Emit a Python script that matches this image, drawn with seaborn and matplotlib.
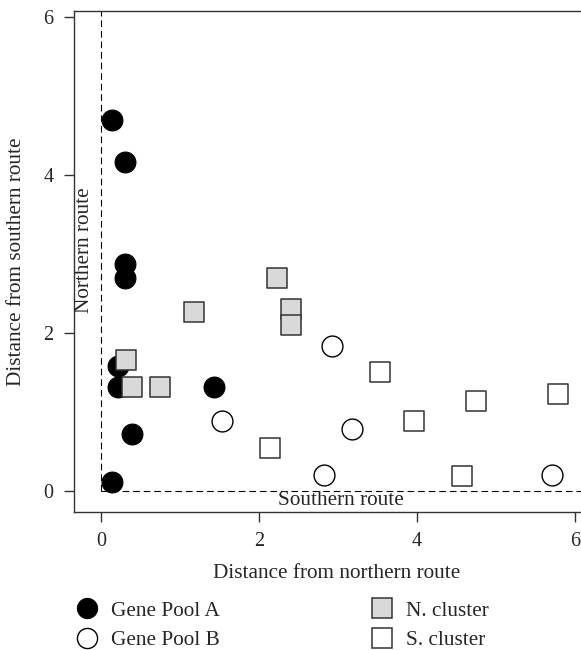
import matplotlib
matplotlib.use("Agg")
import matplotlib.pyplot as plt
from matplotlib.lines import Line2D
import seaborn as sns
import pandas as pd

# ---- data ----
gpa_x = [0.14, 0.30, 0.30, 0.30, 0.22, 0.22, 1.43, 0.39, 0.14]
gpa_y = [4.69, 4.16, 2.87, 2.70, 1.58, 1.32, 1.32, 0.72, 0.11]

gpb_x = [1.53, 2.92, 3.18, 2.82, 5.71]
gpb_y = [0.89, 1.84, 0.79, 0.20, 0.20]

ncl_x = [2.23, 1.18, 2.40, 2.40, 0.32, 0.39, 0.75]
ncl_y = [2.70, 2.26, 2.31, 2.10, 1.66, 1.32, 1.32]

scl_x = [2.14, 3.53, 3.96, 4.75, 5.78, 4.57]
scl_y = [0.54, 1.50, 0.89, 1.14, 1.23, 0.19]

group_names = ["Gene Pool A", "Gene Pool B", "N. cluster", "S. cluster"]
x_ticks = [0, 2, 4, 6]
y_ticks = [0, 2, 4, 6]

df = pd.concat([
    pd.DataFrame({"x": gpa_x, "y": gpa_y, "group": group_names[0]}),
    pd.DataFrame({"x": gpb_x, "y": gpb_y, "group": group_names[1]}),
    pd.DataFrame({"x": ncl_x, "y": ncl_y, "group": group_names[2]}),
    pd.DataFrame({"x": scl_x, "y": scl_y, "group": group_names[3]}),
], ignore_index=True)

sns.set_style("ticks")
plt.rcParams["font.family"] = ["Liberation Serif", "DejaVu Serif"]
FS = 15.3
FS_TICK = 14.5

styles = {
    "Gene Pool A": dict(marker="o", facecolor="black", edgecolor="black", lw=0.8),
    "Gene Pool B": dict(marker="o", facecolor="white", edgecolor="black", lw=1.0),
    "N. cluster": dict(marker="s", facecolor="#d9d9d9", edgecolor="#333333", lw=1.1),
    "S. cluster": dict(marker="s", facecolor="white", edgecolor="#333333", lw=1.1),
}

fig = plt.figure(figsize=(5.81, 6.5), dpi=100)
W, H = 581, 650
ax = fig.add_axes([73.5 / W, (H - 512) / H, (600 - 73.5) / W, (512 - 11) / H])

# reference lines
ax.plot([0, 0], [0, 7], color="black", lw=0.8, ls=(0, (6, 3.5)), zorder=1)
ax.plot([0, 7], [0, 0], color="black", lw=0.8, ls=(0, (6, 3.5)), zorder=1)

for g in group_names:
    st = styles[g]
    sns.scatterplot(data=df[df["group"] == g], x="x", y="y", ax=ax,
                    marker=st["marker"], s=225, color=st["facecolor"],
                    edgecolor=st["edgecolor"], linewidth=st["lw"],
                    zorder=3, legend=False)

ax.set_xlim(-0.348, 6.316)
ax.set_ylim(-0.266, 6.076)
ax.set_xticks(x_ticks)
ax.set_yticks(y_ticks)
ax.set_xticklabels([str(t) for t in x_ticks])
ax.set_yticklabels([str(t) for t in y_ticks])
ax.tick_params(axis="both", direction="out", length=7.5, width=1.0,
               color="#333333", labelsize=FS_TICK, pad=7)
for sp in ax.spines.values():
    sp.set_color("#333333")
    sp.set_linewidth(1.0)

ax.set_xlabel("Distance from northern route", fontsize=FS, labelpad=9)
ax.set_ylabel("Distance from southern route", fontsize=FS, labelpad=12.5)

ax.text(-0.215, 3.05, "Northern route", rotation=90, ha="center", va="center",
        fontsize=FS)
ax.text(3.03, -0.12, "Southern route", ha="center", va="center", fontsize=FS)

def handle(g):
    st = styles[g]
    return Line2D([], [], ls="", marker=st["marker"], markersize=14.5,
                  markerfacecolor=st["facecolor"], markeredgecolor=st["edgecolor"],
                  markeredgewidth=st["lw"])

common = dict(frameon=False, fontsize=FS, borderpad=0, borderaxespad=0,
              handlelength=1.1, handletextpad=0.55, labelspacing=0.45,
              loc="upper left")
leg1 = fig.legend([handle(g) for g in group_names[:2]], group_names[:2],
                  bbox_to_anchor=(75.5 / W, (H - 601) / H), **common)
leg2 = fig.legend([handle(g) for g in group_names[2:]], group_names[2:],
                  bbox_to_anchor=(370.5 / W, (H - 601) / H), **common)

fig.savefig("out.png", dpi=100)
